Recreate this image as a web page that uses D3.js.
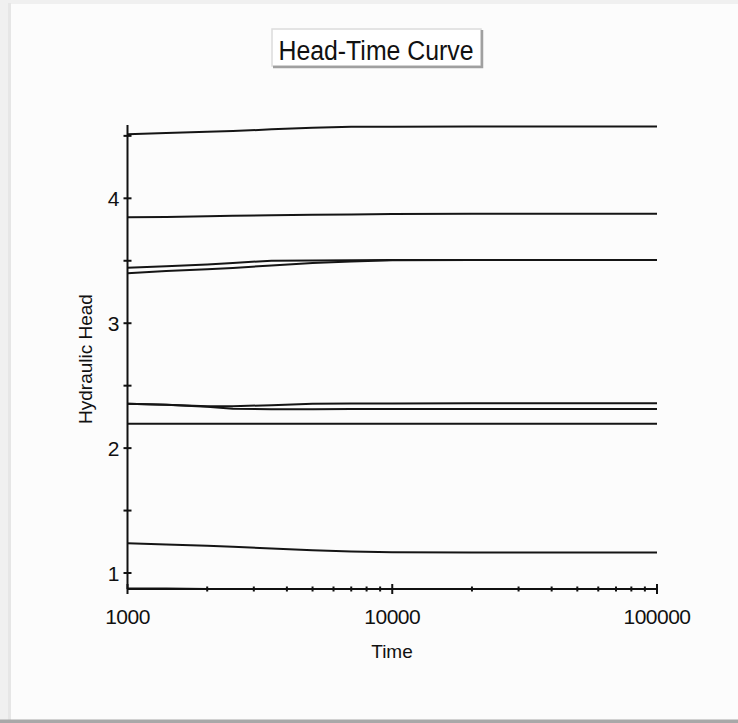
<!DOCTYPE html>
<html>
<head>
<meta charset="utf-8">
<script src="https://cdn.jsdelivr.net/npm/d3@7"></script>
<style>
    body { margin: 0; background: #f0f0f0; }
    #chart { width: 738px; height: 723px; }
    text { font-family: Arial, "Liberation Sans", sans-serif; fill: #111; }
</style>
</head>
<body>
<div id="chart"></div>
<script>
// sample times (log axis) and the head at those times
const times = [1000, 1400, 2000, 2500, 3500, 5000, 7000, 10000, 20000, 50000, 100000];
const head1 = [4.512, 4.522, 4.532, 4.538, 4.552, 4.564, 4.572, 4.573, 4.574, 4.574, 4.574];
const head2 = [3.848, 3.851, 3.856, 3.861, 3.864, 3.868, 3.871, 3.874, 3.877, 3.877, 3.877];
const head3 = [3.444, 3.456, 3.470, 3.483, 3.500, 3.503, 3.505, 3.506, 3.506, 3.506, 3.506];
const head4 = [3.400, 3.418, 3.433, 3.443, 3.462, 3.482, 3.495, 3.505, 3.506, 3.506, 3.506];
const head5 = [2.356, 2.348, 2.335, 2.336, 2.343, 2.356, 2.357, 2.358, 2.359, 2.359, 2.359];
const head6 = [2.356, 2.348, 2.332, 2.315, 2.312, 2.312, 2.313, 2.313, 2.313, 2.313, 2.313];
const head7 = [2.196, 2.196, 2.196, 2.196, 2.196, 2.196, 2.196, 2.196, 2.196, 2.196, 2.196];
const head8 = [1.238, 1.228, 1.218, 1.211, 1.196, 1.182, 1.173, 1.166, 1.165, 1.165, 1.165];
const head9 = [0.877, 0.876, 0.873, 0.872, 0.872, 0.872, 0.872, 0.872, 0.872, 0.872, 0.872];
const allHeads = [head1, head2, head3, head4, head5, head6, head7, head8, head9];

const yTicks = [1, 1.5, 2, 2.5, 3, 3.5, 4, 4.5];
const xLabels = [1000, 10000, 100000];
const titleText = "Head-Time Curve";

window.onload = function () {
    const W = 738, H = 723;
    const left = 127.5, right = 657, top = 125, bottom = 589;

    const svg = d3.select("#chart")
        .append("svg")
        .attr("width", W)
        .attr("height", H);

    // window frame
    svg.append("rect").attr("x", 0).attr("y", 0).attr("width", W).attr("height", H).attr("fill", "#f0f0f0");
    svg.append("rect").attr("x", 8).attr("y", 3).attr("width", 3).attr("height", H).attr("fill", "#e6e6e6");
    svg.append("rect").attr("x", 11).attr("y", 4).attr("width", W - 11).attr("height", 716).attr("fill", "#fcfcfc");
    svg.append("rect").attr("x", 0).attr("y", 719.5).attr("width", W).attr("height", 3.5).attr("fill", "#a8a8a8");

    const xScale = d3.scaleLog()
        .domain([1000, 100000])
        .range([left, right]);

    const yScale = d3.scaleLinear()
        .domain([0.872, 4.587])
        .range([bottom, top]);

    // title box
    const tb = svg.append("g");
    tb.append("rect").attr("x", 272).attr("y", 29).attr("width", 209).attr("height", 37)
        .attr("fill", "#ffffff").attr("stroke", "#dcdcdc").attr("stroke-width", 1.5);
    tb.append("path").attr("d", "M 273 67 H 482 V 30")
        .attr("fill", "none").attr("stroke", "#a0a0a0").attr("stroke-width", 2.5);
    tb.append("text")
        .attr("x", 376).attr("y", 60)
        .attr("text-anchor", "middle")
        .attr("font-size", 27)
        .attr("textLength", 195)
        .attr("lengthAdjust", "spacingAndGlyphs")
        .text(titleText);

    svg.append("clipPath").attr("id", "plot")
        .append("rect").attr("x", left).attr("y", top - 2).attr("width", right - left + 1).attr("height", bottom - top + 4);

    const line = d3.line()
        .x((d, i) => xScale(times[i]))
        .y(d => yScale(d));

    svg.append("g")
        .attr("clip-path", "url(#plot)")
        .selectAll("path")
        .data(allHeads)
        .enter()
        .append("path")
        .attr("d", d => line(d))
        .attr("fill", "none")
        .attr("stroke", "#151515")
        .attr("stroke-width", 2);

    // y axis
    const yAxis = svg.append("g").attr("stroke", "#111");
    yAxis.append("line").attr("x1", left).attr("x2", left).attr("y1", top).attr("y2", bottom).attr("stroke-width", 2);
    yAxis.selectAll(".yt")
        .data(yTicks)
        .enter()
        .append("line")
        .attr("x1", left - 4).attr("x2", left + 4)
        .attr("y1", d => yScale(d)).attr("y2", d => yScale(d))
        .attr("stroke-width", 2);
    svg.selectAll(".ylab")
        .data(yTicks.filter(d => d % 1 === 0))
        .enter()
        .append("text")
        .attr("x", left - 8)
        .attr("y", d => yScale(d) + 7.5)
        .attr("text-anchor", "end")
        .attr("font-size", 21)
        .text(d => d);

    // x axis with log minor ticks
    const xTicks = xScale.ticks();
    const xAxis = svg.append("g").attr("stroke", "#111");
    xAxis.append("line").attr("x1", left).attr("x2", right).attr("y1", bottom).attr("y2", bottom).attr("stroke-width", 2);
    xAxis.selectAll(".xt")
        .data(xTicks)
        .enter()
        .append("line")
        .attr("x1", d => xScale(d)).attr("x2", d => xScale(d))
        .attr("y1", d => xLabels.includes(d) ? bottom - 5 : bottom - 2.5)
        .attr("y2", d => xLabels.includes(d) ? bottom + 5 : bottom + 2.5)
        .attr("stroke-width", 2);
    svg.selectAll(".xlab")
        .data(xLabels)
        .enter()
        .append("text")
        .attr("x", d => xScale(d))
        .attr("y", 623.5)
        .attr("text-anchor", "middle")
        .attr("font-size", 21)
        .attr("letter-spacing", -0.5)
        .text(d => d);

    svg.append("text")
        .attr("x", 392).attr("y", 658)
        .attr("text-anchor", "middle")
        .attr("font-size", 19)
        .text("Time");

    svg.append("text")
        .attr("transform", "translate(92,359) rotate(-90)")
        .attr("text-anchor", "middle")
        .attr("font-size", 19)
        .text("Hydraulic Head");
};
</script>
</body>
</html>
